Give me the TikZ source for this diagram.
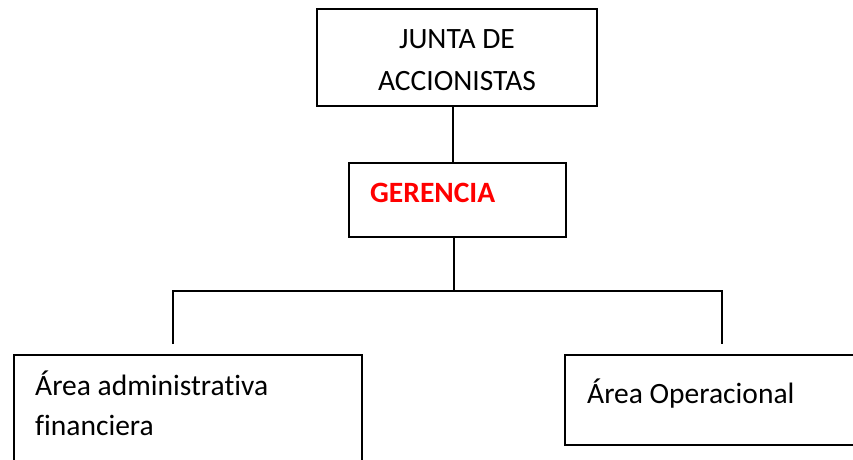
\documentclass[tikz,border=0pt]{standalone}
\usepackage{fontspec}
\setmainfont[Ligatures=NoCommon]{Carlito}
\usetikzlibrary{calc}
\definecolor{gred}{RGB}{255,0,0}
\begin{document}
\begin{tikzpicture}[x=1pt,y=-1pt,
  orgbox/.style={draw=black,line width=1.4pt,rectangle,inner sep=0pt},
  conn/.style={draw=black,line width=1.4pt},
  lbl/.style={inner sep=0pt,font=\fontsize{29.5}{40}\selectfont},
  lblc/.style={lbl,anchor=base},
  lblw/.style={lbl,anchor=base west}]
\useasboundingbox (0,0) rectangle (853,459);
\clip (0,0) rectangle (853,459);
% boxes
\node[orgbox,minimum width=280pt,minimum height=97pt] (jt) at (457,57.5) {};
\node[orgbox,minimum width=217pt,minimum height=74pt] (ger) at (457.5,200) {};
\node[orgbox,minimum width=348pt,minimum height=130pt] (adm) at (188,420) {};
\node[orgbox,minimum width=315pt,minimum height=90pt] (ope) at (722.5,400) {};
% texts
\node[lblc] (t1) at (457,48) {JUNTA DE};
\node[lblc] (t2) at (457,90) {ACCIONISTAS};
\node[lblw,text=gred,font=\fontsize{29.5}{40}\selectfont\bfseries] (t3) at (370,202) {GERENCIA};
\node[lblw] (t4) at (35,395) {Área administrativa};
\node[lblw] (t5) at (35,435) {financiera};
\node[lblw] (t6) at (587,403) {Área Operacional};
% connectors
\coordinate (j1) at ([xshift=-4pt]jt.south);
\draw[conn] (j1) -- (j1 |- ger.north);
\coordinate (g1) at ([xshift=-3.5pt]ger.south);
\coordinate (hub) at (454,291);
\coordinate (la) at (173,291);
\coordinate (ra) at (722,291);
\coordinate (lb) at (173,344);
\coordinate (rb) at (722,344);
\draw[conn] (g1) -- (g1 |- hub);
\draw[conn] (lb) -- (la) -- (ra) -- (rb);
\end{tikzpicture}
\end{document}
